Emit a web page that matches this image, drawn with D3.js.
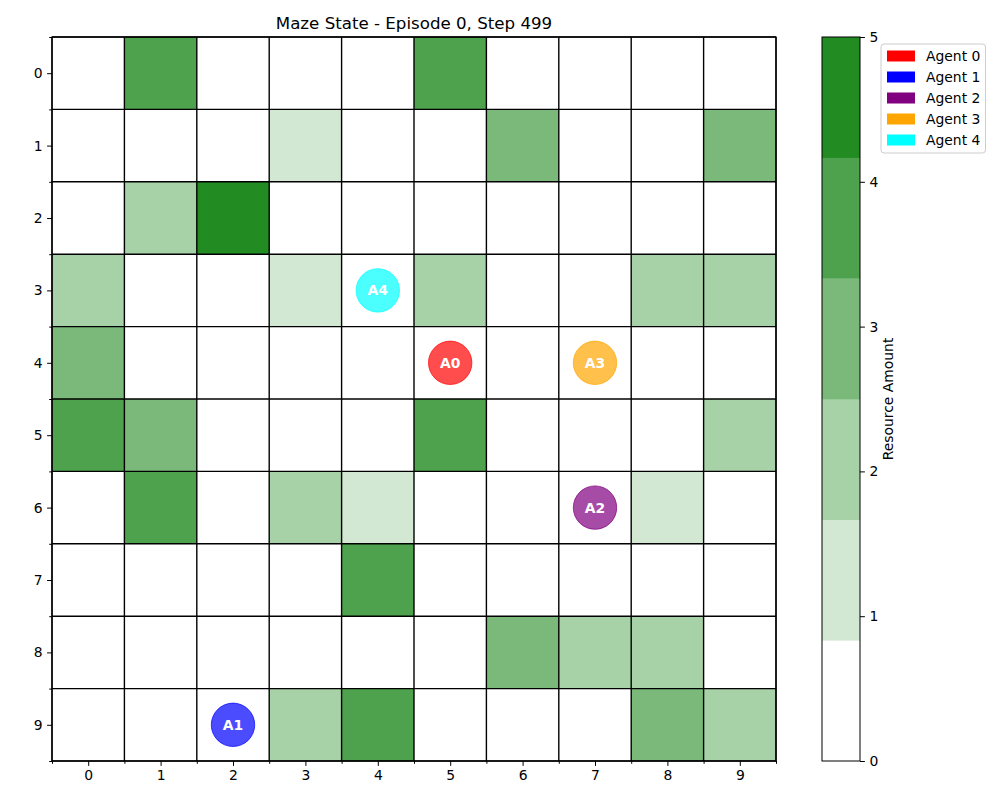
<!DOCTYPE html>
<html>
<head>
<meta charset="utf-8">
<script src="https://cdn.jsdelivr.net/npm/d3@7"></script>
<style>
  html, body { margin: 0; padding: 0; background: #fff; }
  svg { display: block; font-family: "DejaVu Sans", sans-serif; }
</style>
</head>
<body>
<svg id="chart" width="1000" height="800"></svg>
<script>
// ---- data ----
const rows = [0,1,2,3,4,5,6,7,8,9];
const cols = [0,1,2,3,4,5,6,7,8,9];
const resources = [
  [0,4,0,0,0,4,0,0,0,0],
  [0,0,0,1,0,0,3,0,0,3],
  [0,2,5,0,0,0,0,0,0,0],
  [2,0,0,1,0,2,0,0,2,2],
  [3,0,0,0,0,0,0,0,0,0],
  [4,3,0,0,0,4,0,0,0,2],
  [0,4,0,2,1,0,0,0,1,0],
  [0,0,0,0,4,0,0,0,0,0],
  [0,0,0,0,0,0,3,2,2,0],
  [0,0,0,2,4,0,0,0,3,2]
];
const agentNames = ["Agent 0","Agent 1","Agent 2","Agent 3","Agent 4"];
const agentLabels = ["A0","A1","A2","A3","A4"];
const agentColors = ["red","blue","purple","orange","cyan"];
const agentCols = [5,2,7,7,4];
const agentRows = [4,9,6,4,3];
const cbarTicks = [0,1,2,3,4,5];
const cmapColors = ["#ffffff","#d3e8d3","#a7d1a7","#7ab97a","#4ea24e","#228b22"];
const title = "Maze State - Episode 0, Step 499";
const cbarLabel = "Resource Amount";

// ---- layout ----
const FS = 13.9;
const svg = d3.select("#chart");
const L = 52, R = 776, T = 37, B = 761;
const x = d3.scaleLinear().domain([-0.5, 9.5]).range([L, R]);
const y = d3.scaleLinear().domain([-0.5, 9.5]).range([T, B]);
const vmin = 0, vmax = 5;
const nBins = cmapColors.length;
const colorOf = v => cmapColors[Math.min(nBins - 1, Math.floor((v - vmin) / (vmax - vmin) * nBins))];

// cells
const cells = [];
rows.forEach(r => cols.forEach(c => cells.push({r, c, v: resources[r][c]})));
svg.append("g").selectAll("rect").data(cells).join("rect")
  .attr("x", d => x(d.c - 0.5)).attr("y", d => y(d.r - 0.5))
  .attr("width", x(1) - x(0)).attr("height", y(1) - y(0))
  .attr("fill", d => colorOf(d.v));

// grid lines (minor ticks)
const bounds = d3.range(-0.5, 10, 1);
const grid = svg.append("g").attr("stroke", "#000").attr("stroke-width", 1.4);
grid.selectAll("line.v").data(bounds).join("line").attr("class","v")
  .attr("x1", d => x(d)).attr("x2", d => x(d)).attr("y1", T).attr("y2", B);
grid.selectAll("line.h").data(bounds).join("line").attr("class","h")
  .attr("y1", d => y(d)).attr("y2", d => y(d)).attr("x1", L).attr("x2", R);

// axes
const xAxis = d3.axisBottom(x).tickValues(cols).tickFormat(d3.format("d")).tickSize(4.9).tickPadding(4.5);
const yAxis = d3.axisLeft(y).tickValues(rows).tickFormat(d3.format("d")).tickSize(4.9).tickPadding(4.5);
const gx = svg.append("g").attr("transform", `translate(0,${B})`).call(xAxis);
const gy = svg.append("g").attr("transform", `translate(${L},0)`).call(yAxis);
svg.append("g").attr("transform", `translate(0,${B})`)
  .call(d3.axisBottom(x).tickValues(bounds).tickFormat("").tickSize(2.8));
svg.append("g").attr("transform", `translate(${L},0)`)
  .call(d3.axisLeft(y).tickValues(bounds).tickFormat("").tickSize(2.8));
svg.selectAll(".domain").remove();
svg.selectAll(".tick line").attr("stroke", "#000").attr("stroke-width", 1);
[gx, gy].forEach(g => g.selectAll("text").attr("font-size", FS).attr("fill", "#000")
  .attr("font-family", "DejaVu Sans"));

// frame
svg.append("rect").attr("x", L).attr("y", T).attr("width", R - L).attr("height", B - T)
  .attr("fill", "none").attr("stroke", "#000").attr("stroke-width", 1.2);

// agents
const agents = agentNames.map((n, i) => ({n, lab: agentLabels[i], col: agentColors[i], c: agentCols[i], r: agentRows[i]}));
const ag = svg.append("g").selectAll("g").data(agents).join("g")
  .attr("transform", d => `translate(${x(d.c)},${y(d.r)})`);
ag.append("circle").attr("r", 21.7).attr("fill", d => d.col).attr("fill-opacity", 0.7)
  .attr("stroke", d => d.col).attr("stroke-opacity", 0.7).attr("stroke-width", 1);
ag.append("text").text(d => d.lab).attr("text-anchor", "middle").attr("dy", "0.36em")
  .attr("fill", "#fff").attr("font-weight", "bold").attr("font-size", FS);

// title
svg.append("text").attr("x", (L + R) / 2).attr("y", 29).attr("text-anchor", "middle")
  .attr("font-size", 16.67).attr("fill", "#000").text(title);

// colorbar
const CL = 822, CR = 860;
const cy = d3.scaleLinear().domain([vmin, vmax]).range([B, T]);
const binW = (vmax - vmin) / nBins;
svg.append("g").selectAll("rect").data(cmapColors).join("rect")
  .attr("x", CL).attr("width", CR - CL)
  .attr("y", (d, i) => cy(vmin + (i + 1) * binW))
  .attr("height", (d, i) => cy(vmin + i * binW) - cy(vmin + (i + 1) * binW) + 0.3)
  .attr("fill", d => d);
svg.append("rect").attr("x", CL).attr("y", T).attr("width", CR - CL).attr("height", B - T)
  .attr("fill", "none").attr("stroke", "#000").attr("stroke-width", 1);
const gc = svg.append("g").attr("transform", `translate(${CR},0)`)
  .call(d3.axisRight(cy).tickValues(cbarTicks).tickFormat(d3.format("d")).tickSize(4.9).tickPadding(4.5));
gc.select(".domain").remove();
gc.selectAll(".tick line").attr("stroke", "#000");
gc.selectAll("text").attr("font-size", FS).attr("fill", "#000").attr("font-family", "DejaVu Sans");
svg.append("text").attr("transform", `translate(893,${(T + B) / 2}) rotate(-90)`)
  .attr("text-anchor", "middle").attr("font-size", FS).attr("fill", "#000").text(cbarLabel);

// legend
const lg = svg.append("g").attr("transform", "translate(881,44)");
lg.append("rect").attr("width", 104.5).attr("height", 109).attr("rx", 3)
  .attr("fill", "#fff").attr("fill-opacity", 0.8).attr("stroke", "#ccc").attr("stroke-width", 1);
const li = lg.selectAll("g").data(agents).join("g")
  .attr("transform", (d, i) => `translate(0,${12 + i * 21})`);
li.append("rect").attr("x", 6).attr("y", -5.5).attr("width", 28).attr("height", 11)
  .attr("fill", d => d.col);
li.append("text").attr("x", 45).attr("dy", "0.36em").attr("font-size", FS)
  .attr("fill", "#000").text(d => d.n);
</script>
</body>
</html>
